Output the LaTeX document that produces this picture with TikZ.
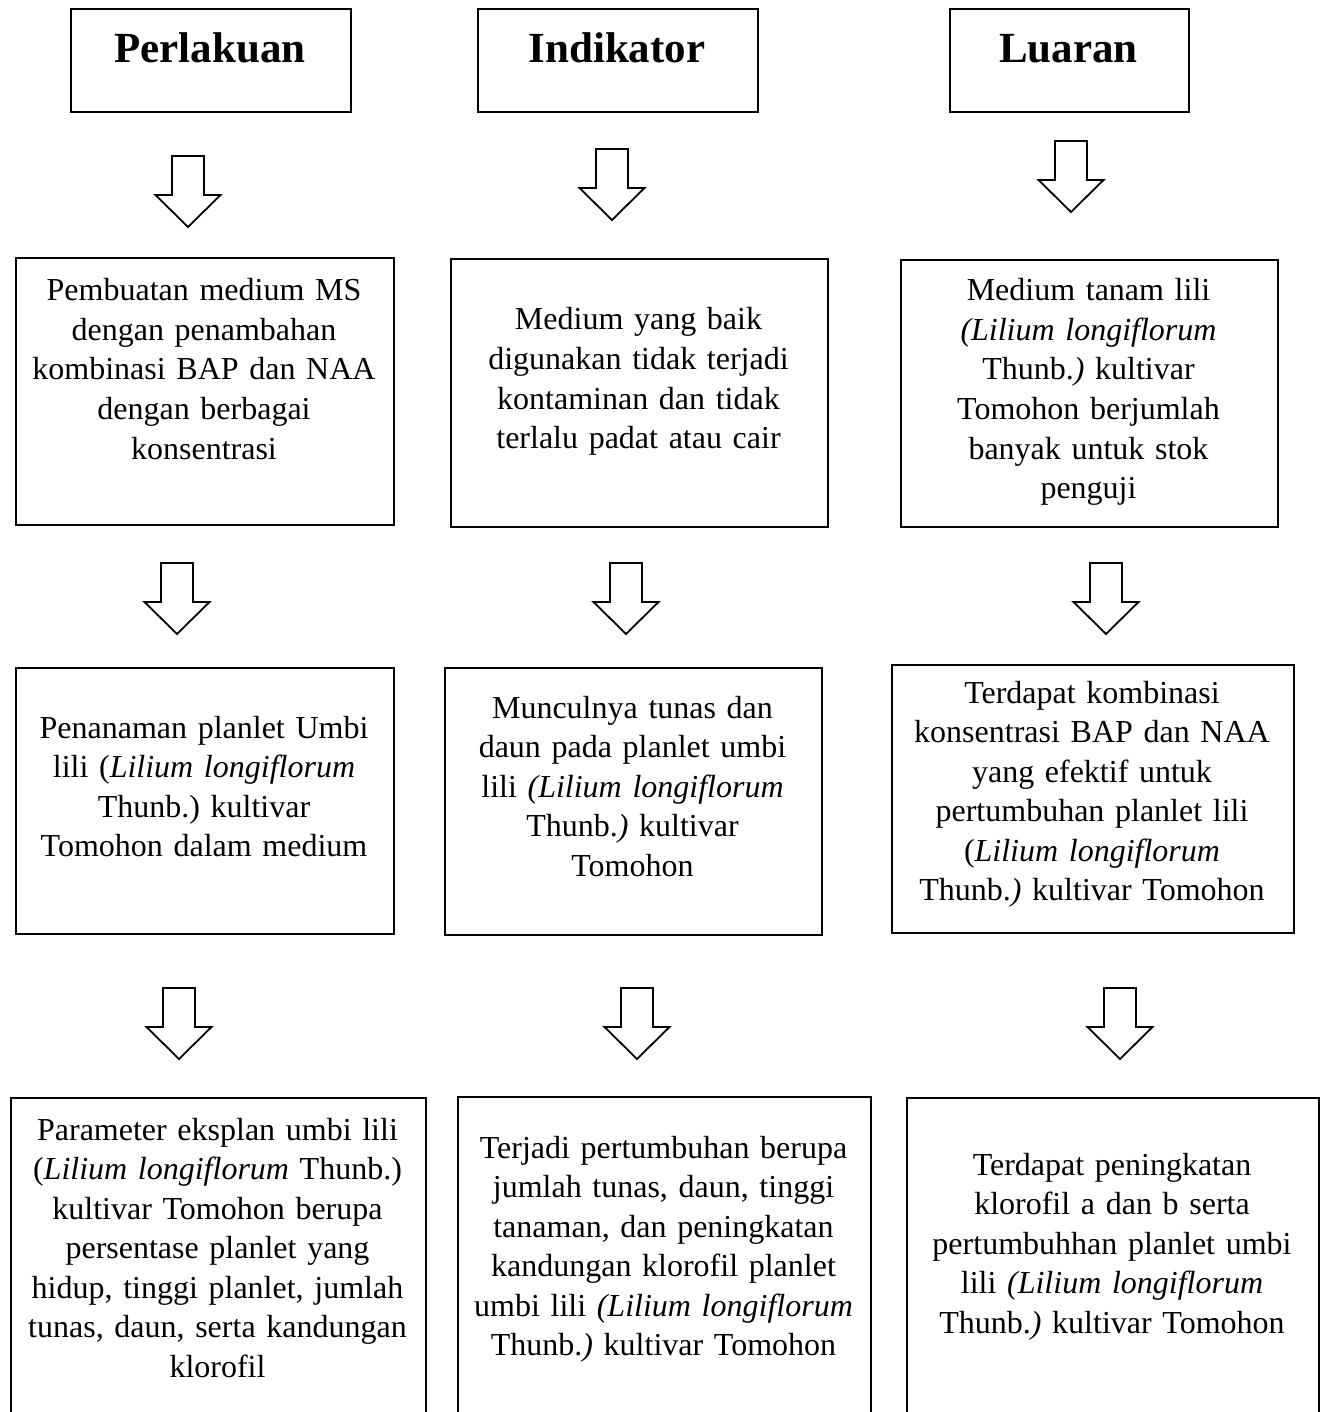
\documentclass[tikz,border=0pt]{standalone}
\usepackage{fontspec}
\setmainfont{Liberation Serif}
\frenchspacing
\begin{document}
\begin{tikzpicture}[x=1pt,y=-1pt,
  box/.style={draw, line width=2.4pt, anchor=north west, inner sep=0pt},
  hdr/.style={anchor=base, font=\fontsize{43}{50}\selectfont\bfseries, inner sep=0pt},
  body/.style={anchor=base, text width=440pt, align=center, inner sep=0pt, font=\fontsize{32}{39.5}\selectfont\frenchspacing},
  blockarrow/.pic={\draw[line width=1.8pt, line join=miter] (-16,0) -- (-16,39) -- (-32.5,39) -- (0,71) -- (32.5,39) -- (16,39) -- (16,0) -- cycle;}
]
\useasboundingbox (0,0) rectangle (1321,1412);
\clip (0,0) rectangle (1321,1412);

% header boxes
\node[box, minimum width=280pt, minimum height=103pt] (h1) at (70,8) {};
\node[box, minimum width=280pt, minimum height=103pt] (h2) at (477,8) {};
\node[box, minimum width=239pt, minimum height=103pt] (h3) at (949,8) {};
\node[hdr] (h1t) at (210,63) {Perlakuan};
\node[hdr] (h2t) at (617,63) {Indikator};
\node[hdr] (h3t) at (1068.5,63) {Luaran};

% row 2 boxes
\node[box, minimum width=378pt, minimum height=267pt] (r2l) at (15,257) {};
\node[box, minimum width=377pt, minimum height=268pt] (r2m) at (450,258) {};
\node[box, minimum width=377pt, minimum height=267pt] (r2r) at (900,259) {};
\node[body] (t2l) at (204,301) {Pembuatan medium MS\\ dengan penambahan\\ kombinasi BAP dan NAA\\ dengan berbagai\\ konsentrasi};
\node[body] (t2m) at (638.5,330) {Medium yang baik\\ digunakan tidak terjadi\\ kontaminan dan tidak\\ terlalu padat atau cair};
\node[body] (t2r) at (1088.5,301) {Medium tanam lili\\ \textit{(Lilium longiflorum}\\ Thunb.\textit{)} kultivar\\ Tomohon berjumlah\\ banyak untuk stok\\ penguji};

% row 3 boxes
\node[box, minimum width=378pt, minimum height=266pt] (r3l) at (15,667) {};
\node[box, minimum width=377pt, minimum height=267pt] (r3m) at (444,667) {};
\node[box, minimum width=402pt, minimum height=268pt] (r3r) at (891,664) {};
\node[body] (t3l) at (204,738) {Penanaman planlet Umbi\\ lili (\textit{Lilium longiflorum}\\ Thunb.) kultivar\\ Tomohon dalam medium};
\node[body] (t3m) at (632.5,718) {Munculnya tunas dan\\ daun pada planlet umbi\\ lili \textit{(Lilium longiflorum}\\ Thunb.\textit{)} kultivar\\ Tomohon};
\node[body] (t3r) at (1092,703) {Terdapat kombinasi\\ konsentrasi BAP dan NAA\\ yang efektif untuk\\ pertumbuhan planlet lili\\ (\textit{Lilium longiflorum}\\ Thunb.\textit{)} kultivar Tomohon};

% row 4 boxes (cut by the lower edge)
\node[box, minimum width=415pt, minimum height=340pt] (r4l) at (10,1097) {};
\node[box, minimum width=413pt, minimum height=340pt] (r4m) at (457,1096) {};
\node[box, minimum width=412pt, minimum height=340pt] (r4r) at (906,1097) {};
\node[body] (t4l) at (217.5,1140) {Parameter eksplan umbi lili\\ (\textit{Lilium longiflorum} Thunb.)\\ kultivar Tomohon berupa\\ persentase planlet yang\\ hidup, tinggi planlet, jumlah\\ tunas, daun, serta kandungan\\ klorofil};
\node[body] (t4m) at (663.5,1158) {Terjadi pertumbuhan berupa\\ jumlah tunas, daun, tinggi\\ tanaman, dan peningkatan\\ kandungan klorofil planlet\\ umbi lili \textit{(Lilium longiflorum}\\ Thunb.\textit{)} kultivar Tomohon};
\node[body] (t4r) at (1112,1175) {Terdapat peningkatan\\ klorofil a dan b serta\\ pertumbuhhan planlet umbi\\ lili \textit{(Lilium longiflorum}\\ Thunb.\textit{)} kultivar Tomohon};

% block arrows
\coordinate (a1l) at (188,156);
\coordinate (a1m) at (612,149);
\coordinate (a1r) at (1071,141);
\coordinate (a2l) at (177,563);
\coordinate (a2m) at (626,563);
\coordinate (a2r) at (1106,563);
\coordinate (a3l) at (179,988);
\coordinate (a3m) at (637,988);
\coordinate (a3r) at (1120,988);
\foreach \p in {a1l,a1m,a1r,a2l,a2m,a2r,a3l,a3m,a3r} {\pic at (\p) {blockarrow};}
\end{tikzpicture}
\end{document}
